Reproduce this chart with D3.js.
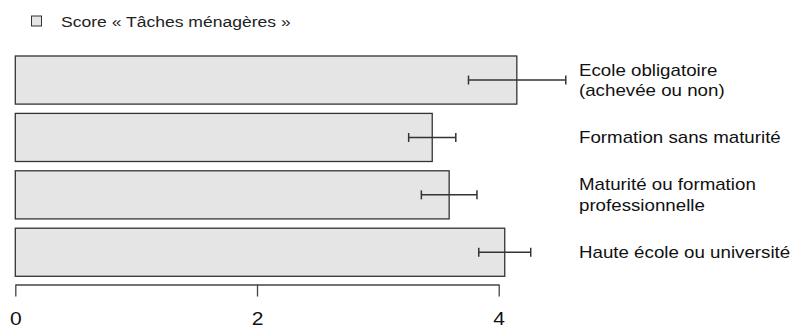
<!DOCTYPE html>
<html>
<head>
<meta charset="utf-8">
<script src="https://cdn.jsdelivr.net/npm/d3@7"></script>
<style>
  html, body { margin: 0; padding: 0; background: #fff; }
  svg { display: block; font-family: "Liberation Sans", Arial, sans-serif; }
</style>
</head>
<body>
<svg id="chart" width="798" height="329"></svg>
<script>
// ---- data ----
const categories = [
  ["Ecole obligatoire", "(achevée ou non)"],
  ["Formation sans maturité"],
  ["Maturité ou formation", "professionnelle"],
  ["Haute école ou université"]
];
const scores = [4.15, 3.45, 3.59, 4.05];
const lower = [3.75, 3.255, 3.36, 3.835];
const upper = [4.555, 3.645, 3.82, 4.265];
const xTicks = [0, 2, 4];
const legendLabel = "Score « Tâches ménagères »";

// ---- layout ----
const svg = d3.select("#chart");
const ids = categories.map((c, i) => i);
const stretch = 1.17; // horizontal text stretch seen in the reference
const stretchAt = x0 => `matrix(${stretch},0,0,1,${-(stretch - 1) * x0},0)`;

const x = d3.scaleLinear().domain([0, 4]).range([15.3, 498.7]);
const y = d3.scaleBand().domain(ids).range([56, 276.3]).paddingInner(0.162).paddingOuter(0);

const fill = "#e5e5e5";
const stroke = "#333333";

// legend
svg.append("rect").attr("x", 31.5).attr("y", 16).attr("width", 10).attr("height", 10)
  .attr("fill", fill).attr("stroke", stroke).attr("stroke-width", 1);
svg.append("text").attr("x", 61).attr("y", 27).attr("font-size", 15).attr("fill", "#222")
  .attr("transform", stretchAt(61))
  .text(legendLabel);

// bars
svg.append("g").selectAll("rect").data(ids).join("rect")
  .attr("x", x(0))
  .attr("y", i => y(i))
  .attr("width", i => x(scores[i]) - x(0))
  .attr("height", y.bandwidth())
  .attr("fill", fill).attr("stroke", stroke).attr("stroke-width", 1.3);

// error bars
const eg = svg.append("g").attr("stroke", stroke).attr("stroke-width", 1.5);
ids.forEach(i => {
  const cy = y(i) + y.bandwidth() / 2;
  eg.append("line").attr("x1", x(lower[i])).attr("x2", x(upper[i])).attr("y1", cy).attr("y2", cy);
  eg.append("line").attr("x1", x(lower[i])).attr("x2", x(lower[i])).attr("y1", cy - 4.5).attr("y2", cy + 4.5);
  eg.append("line").attr("x1", x(upper[i])).attr("x2", x(upper[i])).attr("y1", cy - 4.5).attr("y2", cy + 4.5);
});

// category labels
const lx = 579;
const lg = svg.append("g").attr("font-size", 16).attr("fill", "#111");
ids.forEach(i => {
  const lines = categories[i];
  const cy = y(i) + y.bandwidth() / 2;
  const lh = 20.5;
  const t = lg.append("text").attr("x", lx)
    .attr("y", cy - (lines.length - 1) * lh / 2)
    .attr("transform", stretchAt(lx));
  lines.forEach((l, k) => {
    t.append("tspan").attr("x", lx).attr("dy", k === 0 ? "0.36em" : lh).text(l);
  });
});

// x axis
const axis = d3.axisBottom(x).tickValues(xTicks).tickFormat(d3.format("d"))
  .tickSize(12).tickSizeOuter(0).tickPadding(15.5);
const ag = svg.append("g").attr("transform", "translate(0,284.5)").call(axis);
ag.select(".domain").attr("stroke", "#444").attr("stroke-width", 1.3);
ag.selectAll(".tick line").attr("stroke", "#444").attr("stroke-width", 1.3);
ag.selectAll(".tick text").attr("font-size", 18).attr("fill", "#111")
  .attr("font-family", "\"Liberation Sans\", Arial, sans-serif")
  .attr("transform", `scale(${stretch},1)`);
</script>
</body>
</html>
